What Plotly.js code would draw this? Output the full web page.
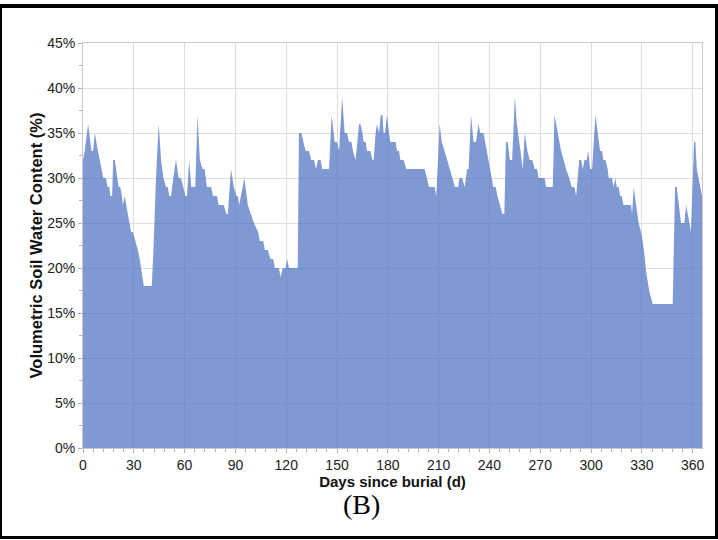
<!DOCTYPE html>
<html>
<head>
<meta charset="utf-8">
<script src="https://cdn.plot.ly/plotly-3.0.1.min.js"></script>
<style>
  html, body { margin: 0; padding: 0; background: #fff; }
  #wrap { position: relative; width: 718px; height: 540px; overflow: hidden; }
  #chart { position: absolute; left: 0; top: 0; width: 718px; height: 540px; }
  #frame { position: absolute; left: 0; top: 4px; width: 718px; height: 535px; box-sizing: border-box;
           border-top: 4px solid #000; border-left: 2px solid #000; border-right: 3px solid #000; border-bottom: 3px solid #000; pointer-events: none; }
</style>
</head>
<body>
<div id="wrap">
  <div id="chart"></div>
  <div id="frame"></div>
</div>
<script>
// Days since burial
const days = [0,1,3,5,6,7,8.8,10,11,12,13.5,14.5,15.5,16.2,17.2,17.8,18.8,20,21,22,23,23.5,24.7,25.5,26.5,27.5,28.4,29.4,31,32.4,33.5,34.3,35.9,40.6,41.6,43.1,44.7,46.1,47.5,49,50,51,52,53.3,54.9,56.5,57.8,59.2,60.4,61.4,62.7,63.9,66.3,67.6,69,70.6,71.8,73.2,75.6,76.8,79.1,80.1,83.1,84.7,85.5,87.4,89,90.6,91.5,92.2,95.3,97.3,98.9,100.9,103.4,104.4,106.4,107.4,109.1,110.7,112.3,113.3,115.7,116.6,118,119.6,120.6,121.6,126.8,127.5,128.9,130.1,131.4,133.4,134.8,136.4,137.6,138.7,140.3,141.3,145.3,146.8,148.6,150,151.2,153,154.5,155.9,157.1,158.5,159.4,161,163,163.8,165,165.7,166.9,167.7,169.7,170.9,171.6,172.8,173.6,174.8,175.8,176.8,177.5,178.3,179.5,180.7,181.5,184.6,185.4,186.6,187.4,189.3,190.9,201.7,203.1,204.3,207.6,208.6,210.6,211.8,213.5,214.9,216.5,218.1,219.6,221.5,222.3,223.8,225.4,226.8,227.7,229.1,230.6,232,233.6,234.5,236.5,238.4,240.4,242.3,243.7,244.7,246.2,247.6,248.8,249.7,250.7,252.1,253.4,255,256.2,257.5,258.5,259.7,260.8,262.4,263.8,265.3,266.7,268.1,269,272.5,273.5,277.4,278.4,280.3,282.3,283.8,285.2,287.1,288.5,290.1,291.2,293,294.1,295.1,296.1,297.4,298.4,299.4,300.6,302.6,304.5,305.3,306.5,307.3,308.5,309.8,310.4,312.4,313.2,314.4,315.1,316.3,317.1,318.1,319.1,323.6,324.2,325.2,326.6,328.1,329.5,330.5,331.5,332.5,334.4,336.4,348.2,349.6,350.6,351.7,353.1,355.1,356.1,357.1,359,360.8,361.6,362.4,364.3,365.5];

// Volumetric soil water content (%)
const vwc = [32,33,36,33,33,35,33,32,31,30,30,29,29,28,28,32,32,30,29,29,28,27,28,27,26,25,24,24,23,22,21,20,18,18,22,30,36,32,30,29,29,28,28,30,32,30,30,29,28,28,32,29,29,37,32,31,31,29,29,28,28,27,27,26,26,31,29,28,28,27,30,27,26,25,24,23,23,22,22,21,21,20,20,19,20,20,21,20,20,35,35,34,33,33,32,32,31,32,32,31,31,37,34,34,33,39,35,35,34,34,33,32,36,36,35,34,34,33,33,32,32,35,36,35,37,37,35,35,37,35,34,34,33,33,32,32,31,31,30,29,29,28,36,34,33,32,31,30,29,29,30,30,29,31,31,37,34,34,36,35,35,33,31,29,29,28,27,26,26,34,34,32,32,39,36,34,33,31,35,33,32,32,31,31,30,30,29,29,37,35,33,32,31,30,29,29,28,32,32,31,32,32,33,31,31,37,34,33,33,32,32,31,30,30,29,30,29,29,28,28,27,27,26,29,27,25,24,23,21.5,19.6,17.4,16,16,29,29,27,25,25,27,26,24,34,34,31,29.3,28];

// Axis ticks
const xTicks = [0,30,60,90,120,150,180,210,240,270,300,330,360];
const yTicks = [0,5,10,15,20,25,30,35,40,45];
const yTickText = yTicks.map(v => v + '%');

const trace = {
  x: days,
  y: vwc,
  type: 'scatter',
  mode: 'lines',
  fill: 'tozeroy',
  fillcolor: 'rgba(72,110,192,0.70)',
  line: { color: 'rgba(72,110,192,0.0)', width: 0 },
  hoverinfo: 'x+y'
};

const axisFont = { family: 'Liberation Sans, Arial, sans-serif', size: 14, color: '#222' };

const layout = {
  width: 718,
  height: 540,
  margin: { l: 83, r: 16, t: 43, b: 92 },
  paper_bgcolor: '#fff',
  plot_bgcolor: '#fff',
  showlegend: false,
  xaxis: {
    range: [0, 365.5],
    tickmode: 'array',
    tickvals: xTicks,
    ticktext: xTicks.map(String),
    tickfont: axisFont,
    ticks: 'outside',
    ticklen: 4,
    tickcolor: '#b0b0b0',
    showgrid: true,
    gridcolor: '#dedede',
    gridwidth: 1,
    showline: true,
    linecolor: '#c8c8c8',
    linewidth: 1,
    mirror: true,
    zeroline: false,
    minor: { dtick: 6, ticks: 'outside', ticklen: 3, tickcolor: '#b0b0b0', showgrid: false },
    title: { text: '<b>Days since burial (d)</b>', font: { family: 'Liberation Sans, Arial, sans-serif', size: 15, color: '#111' }, standoff: 2 }
  },
  yaxis: {
    range: [0, 45],
    tickmode: 'array',
    tickvals: yTicks,
    ticktext: yTickText,
    tickfont: axisFont,
    ticks: 'outside',
    ticklen: 4,
    tickcolor: '#b0b0b0',
    showgrid: true,
    gridcolor: '#dedede',
    gridwidth: 1,
    showline: true,
    linecolor: '#c8c8c8',
    linewidth: 1,
    mirror: true,
    zeroline: false,
    minor: { dtick: 2.5, ticks: 'outside', ticklen: 3, tickcolor: '#b0b0b0', showgrid: false },
    title: { text: '<b>Volumetric Soil Water Content (%)</b>', font: { family: 'Liberation Sans, Arial, sans-serif', size: 16.5, color: '#111' }, standoff: 0 }
  },
  annotations: [
    {
      text: '(B)',
      xref: 'paper', yref: 'paper',
      x: 0.450, y: -0.14,
      xanchor: 'center', yanchor: 'middle',
      showarrow: false,
      font: { family: 'Liberation Serif, Times New Roman, serif', size: 28, color: '#000' }
    }
  ]
};

Plotly.newPlot('chart', [trace], layout, { displayModeBar: false, staticPlot: true });
</script>
</body>
</html>
